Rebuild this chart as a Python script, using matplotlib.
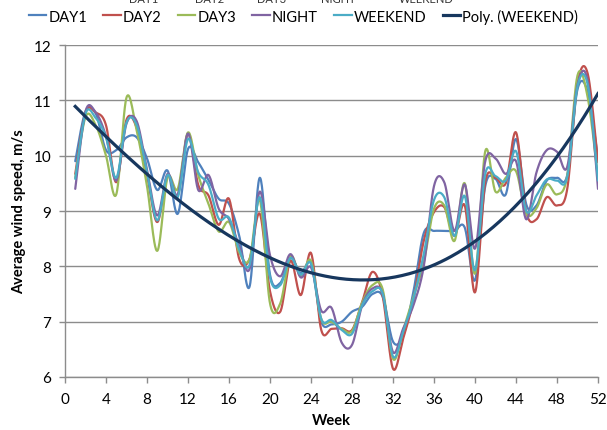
import numpy as np
import matplotlib
matplotlib.use("Agg")
import matplotlib.pyplot as plt
from matplotlib.lines import Line2D

plt.rcParams['font.family'] = ['Lato', 'DejaVu Sans']

weeks = list(range(1, 53))

day1 = [9.90, 10.80, 10.76, 10.10, 10.10, 10.33, 10.33, 9.95, 9.38, 9.73,
        8.95, 10.12, 9.88, 9.56, 9.22, 9.13, 8.55, 7.63, 9.60, 7.85,
        7.70, 8.15, 7.88, 8.05, 7.00, 6.95, 7.00, 7.18, 7.27, 7.50,
        7.45, 6.64, 6.75, 7.55, 8.60, 8.64, 8.64, 8.64, 8.70, 7.75,
        9.45, 9.58, 9.30, 10.30, 9.12, 9.10, 9.55, 9.60, 9.65, 11.20,
        11.15, 9.94]
day2 = [9.67, 10.78, 10.78, 10.55, 9.52, 10.65, 10.50, 9.65, 8.80, 9.65,
        9.28, 10.40, 9.47, 9.28, 8.75, 9.22, 8.13, 8.13, 8.95, 7.55,
        7.18, 8.10, 7.48, 8.24, 6.85, 6.87, 6.88, 6.85, 7.36, 7.90,
        7.45, 6.15, 6.70, 7.40, 8.46, 8.98, 9.07, 8.55, 9.10, 7.53,
        9.52, 9.60, 9.50, 10.42, 8.98, 8.85, 9.25, 9.10, 9.40, 11.30,
        11.48, 9.88]
day3 = [9.60, 10.70, 10.55, 10.00, 9.30, 11.05, 10.45, 9.45, 8.28, 9.60,
        9.40, 10.42, 9.65, 9.13, 8.63, 8.80, 8.25, 8.13, 9.20, 7.33,
        7.33, 8.18, 7.82, 8.10, 7.05, 7.00, 6.87, 6.83, 7.35, 7.66,
        7.58, 6.33, 6.85, 7.45, 8.07, 9.04, 9.10, 8.46, 9.50, 7.87,
        10.08, 9.35, 9.60, 9.72, 8.95, 9.05, 9.48, 9.30, 9.64, 11.45,
        11.05, 9.60]
night = [9.40, 10.80, 10.78, 10.35, 9.55, 10.58, 10.62, 9.75, 8.92, 9.67,
         9.30, 10.40, 9.38, 9.65, 9.04, 8.85, 8.37, 7.95, 9.35, 8.20,
         7.82, 8.22, 7.80, 7.98, 7.20, 7.25, 6.62, 6.58, 7.30, 7.60,
         7.50, 6.45, 6.88, 7.30, 8.00, 9.45, 9.52, 8.64, 9.48, 8.32,
         9.90, 9.95, 9.67, 9.90, 8.85, 9.70, 10.10, 10.07, 9.80, 11.28,
         11.35, 9.40]
weekend = [9.58, 10.76, 10.68, 10.33, 9.60, 10.60, 10.55, 9.70, 8.83, 9.65,
           9.25, 10.30, 9.70, 9.47, 8.86, 8.88, 8.30, 8.02, 9.25, 7.80,
           7.66, 8.15, 7.85, 8.05, 7.05, 7.03, 6.85, 6.78, 7.30, 7.55,
           7.50, 6.37, 6.82, 7.42, 8.22, 9.20, 9.25, 8.55, 9.27, 7.93,
           9.67, 9.63, 9.55, 10.08, 9.00, 9.28, 9.57, 9.55, 9.62, 11.25,
           11.28, 9.55]

series_names = ["DAY1", "DAY2", "DAY3", "NIGHT", "WEEKEND"]
series_values = [day1, day2, day3, night, weekend]
series_colors = ["#4F81BD", "#C0504D", "#9BBB59", "#8064A2", "#4BACC6"]
trend_color = "#17375E"
trend_label = "Poly. (WEEKEND)"
trend_degree = 3

x_ticks = list(range(0, 53, 4))
y_ticks = list(range(6, 13))


def smooth(x, y, n=24):
    pts = np.column_stack([np.asarray(x, float), np.asarray(y, float)])
    P = np.vstack([pts[0], pts, pts[-1]])
    out = []
    t = np.linspace(0, 1, n, endpoint=False)[:, None]
    for i in range(1, len(P) - 2):
        p0, p1, p2, p3 = P[i - 1], P[i], P[i + 1], P[i + 2]
        c1 = p1 + (p2 - p0) / 6.0
        c2 = p2 - (p3 - p1) / 6.0
        b = ((1 - t) ** 3) * p1 + 3 * ((1 - t) ** 2) * t * c1 + 3 * (1 - t) * t ** 2 * c2 + t ** 3 * p2
        out.append(b)
    out.append(pts[-1:])
    s = np.vstack(out)
    return s[:, 0], s[:, 1]


fig = plt.figure(figsize=(6.07, 4.31), dpi=100)
ax = fig.add_axes([65 / 607, 1 - 378 / 431, (598 - 65) / 607, (378 - 46) / 431])

for name, vals, col in zip(series_names, series_values, series_colors):
    sx, sy = smooth(weeks, vals)
    ax.plot(sx, sy, color=col, lw=1.6, solid_capstyle='round', zorder=3)

coef = np.polyfit(weeks, weekend, trend_degree)
tx = np.linspace(weeks[0], weeks[-1], 300)
ax.plot(tx, np.polyval(coef, tx), color=trend_color, lw=2.3, zorder=4)

ax.set_xlim(0, 52)
ax.set_ylim(6, 12)
ax.set_xticks(x_ticks)
ax.set_yticks(y_ticks)
ax.grid(axis='y', color='#8C8C8C', lw=1.0)
ax.set_axisbelow(True)
for s in ['top', 'right']:
    ax.spines[s].set_visible(False)
for s in ['left', 'bottom']:
    ax.spines[s].set_color('#8C8C8C')
    ax.spines[s].set_linewidth(1.0)
ax.tick_params(axis='both', colors='#8C8C8C', labelcolor='black', labelsize=11,
               length=4, width=1.0, direction='out')
ax.tick_params(axis='x', pad=7)
ax.tick_params(axis='y', pad=6)

ax.set_xlabel("Week", fontsize=10.5, fontweight='bold', labelpad=5)
ax.set_ylabel("Average wind speed, m/s", fontsize=10.5, fontweight='bold', labelpad=5)

handles = [Line2D([], [], color=c, lw=1.6) for c in series_colors]
handles.append(Line2D([], [], color=trend_color, lw=2.3))
labels = series_names + [trend_label]
fig.legend(handles, labels, loc='center', bbox_to_anchor=(0.5, 1 - 17 / 431),
           ncol=6, frameon=False, fontsize=10.5, handlelength=1.2,
           handletextpad=0.15, columnspacing=1.1, borderaxespad=0)

# clipped remnant of text at the very top edge
for name, xc in zip(series_names, [144, 210, 272, 338, 426]):
    fig.text(xc / 607, 1 - 3 / 431, name, ha='center', va='baseline', fontsize=8, color='#333333')

fig.savefig("out.png", dpi=100)
